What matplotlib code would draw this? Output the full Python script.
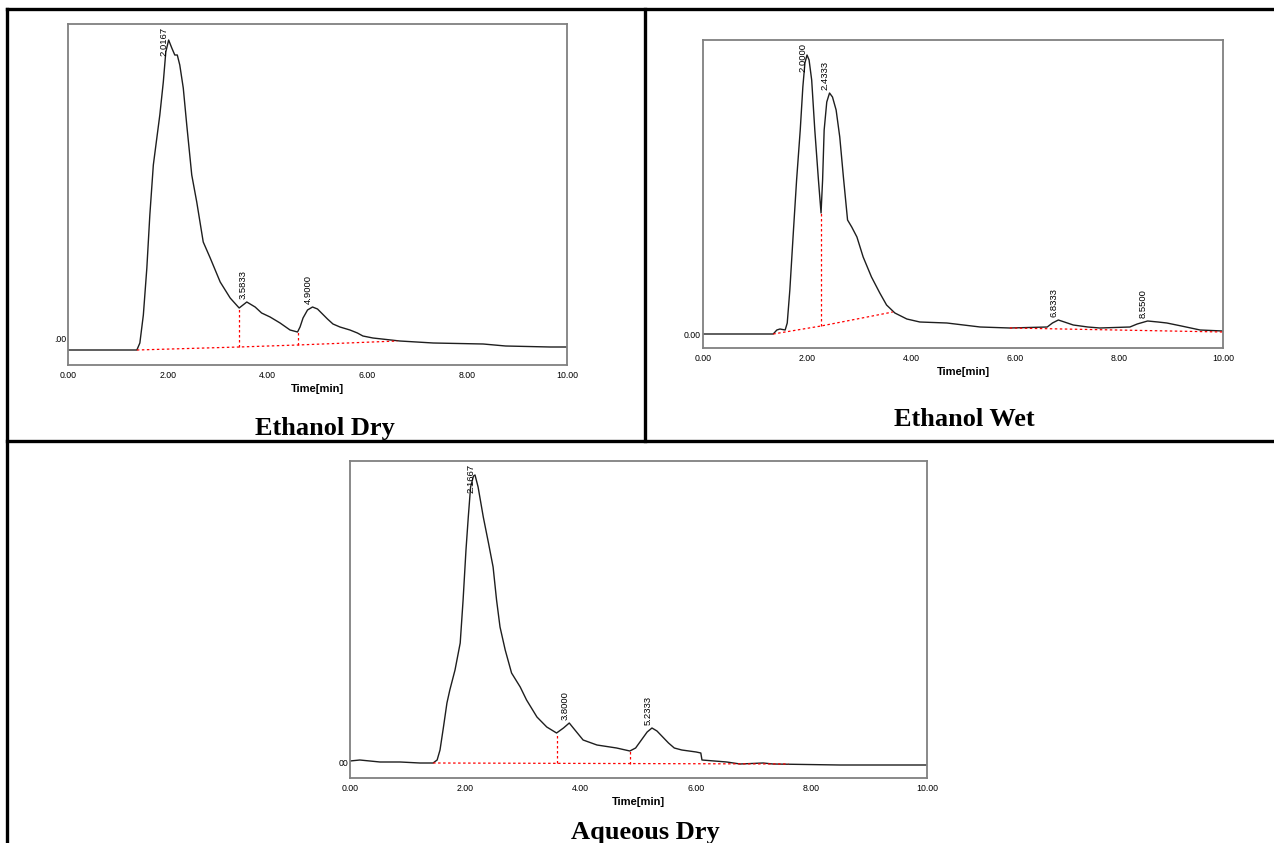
import numpy as np
import matplotlib
matplotlib.use("Agg")
import matplotlib.pyplot as plt
from matplotlib.lines import Line2D

plt.rcParams['font.family'] = ['Liberation Sans', 'DejaVu Sans']

# Ethanol Dry chromatogram (time in min, detector response in arbitrary units)
dry_t = [0.0, 1.38, 1.44, 1.51, 1.58, 1.64, 1.71, 1.78, 1.84, 1.91, 1.96, 2.0167,
         2.08, 2.14, 2.19, 2.24, 2.31, 2.38, 2.48, 2.58, 2.71, 2.85, 3.05, 3.25,
         3.43, 3.5833, 3.75, 3.88, 4.05, 4.25, 4.45, 4.6, 4.65, 4.71, 4.8, 4.9,
         5.0, 5.1, 5.2, 5.31, 5.45, 5.65, 5.8, 5.91, 6.11, 6.65, 7.32, 8.32,
         8.77, 9.66, 10.0]
dry_y = [15, 15, 22, 50, 97, 150, 200, 227, 250, 283, 313, 325,
         317, 310, 310, 300, 277, 240, 190, 163, 123, 107, 83, 67,
         57, 63, 58, 52, 48, 42, 35, 33, 38, 47, 55, 58,
         56, 51, 46, 41, 38, 35, 32, 29, 27, 24, 22, 21,
         19, 18, 18]
dry_peaks = [2.0167, 3.5833, 4.9000]
dry_peak_labels = ["2.0167", "3.5833", "4.9000"]
dry_base_t = [1.38, 3.43, 4.6, 6.6]
dry_base_y = [15, 18, 20, 24]
dry_drops = [3.43, 4.6]

# Ethanol Wet chromatogram
wet_t = [0.0, 1.35, 1.42, 1.48, 1.58, 1.62, 1.67, 1.74, 1.80, 1.87, 1.92, 1.96,
         2.0, 2.04, 2.09, 2.15, 2.22, 2.27, 2.30, 2.33, 2.38, 2.4333, 2.49, 2.56,
         2.63, 2.70, 2.78, 2.86, 2.96, 3.08, 3.24, 3.40, 3.53, 3.69, 3.92, 4.17,
         4.69, 5.33, 5.9, 6.62, 6.72, 6.8333, 6.95, 7.12, 7.4, 7.63, 8.21, 8.35,
         8.55, 8.75, 8.92, 9.2, 9.56, 10.0]
wet_y = [14, 14, 18, 19, 18, 25, 58, 118, 168, 218, 261, 285,
         293, 288, 268, 218, 168, 135, 168, 218, 246, 255, 251, 238,
         211, 171, 128, 121, 111, 91, 71, 55, 43, 35, 29, 26,
         25, 21, 20, 21, 25, 28, 26, 23, 21, 20, 21, 24,
         27, 26, 25, 22, 18, 17]
wet_peaks = [2.0000, 2.4333, 6.8333, 8.5500]
wet_peak_labels = ["2.0000", "2.4333", "6.8333", "8.5500"]
wet_base_t = [1.35, 2.27, 3.65]
wet_base_y = [14, 22, 36]
wet_base2_t = [5.9, 10.0]
wet_base2_y = [20, 16]
wet_drops = [2.27]

# Aqueous Dry chromatogram
aq_t = [0.0, 0.17, 0.52, 0.87, 1.21, 1.44, 1.51, 1.56, 1.62, 1.68, 1.73, 1.82,
        1.91, 1.96, 2.01, 2.05, 2.09, 2.14, 2.1667, 2.22, 2.31, 2.40, 2.48, 2.54,
        2.60, 2.69, 2.80, 2.95, 3.06, 3.24, 3.41, 3.58, 3.70, 3.80, 3.87, 4.04,
        4.28, 4.62, 4.85, 4.95, 5.05, 5.15, 5.2333, 5.32, 5.42, 5.52, 5.62, 5.75,
        6.0, 6.08, 6.10, 6.53, 6.76, 7.16, 7.33, 8.49, 10.0]
aq_y = [17, 18, 16, 16, 15, 15, 18, 28, 51, 75, 88, 108,
        135, 178, 228, 261, 291, 302, 303, 291, 261, 235, 211, 178,
        151, 128, 105, 91, 78, 61, 51, 45, 50, 55, 50, 38,
        33, 30, 27, 30, 38, 46, 50, 47, 41, 35, 30, 28,
        26, 25, 18, 16, 14, 15, 14, 13, 13]
aq_peaks = [2.1667, 3.8000, 5.2333]
aq_peak_labels = ["2.1667", "3.8000", "5.2333"]
aq_base_t = [1.44, 7.6]
aq_base_y = [15, 14]
aq_drops = [3.58, 4.85]

xticks = [0, 2, 4, 6, 8, 10]
W, H = 1274, 843


def make_ax(fig, x0, y0, x1, y1, top):
    ax = fig.add_axes([x0 / W, 1 - y1 / H, (x1 - x0) / W, (y1 - y0) / H])
    ax.set_xlim(0, 10)
    ax.set_ylim(0, top)
    for s in ax.spines.values():
        s.set_color('#808080')
        s.set_linewidth(1.3)
    ax.set_xticks(xticks)
    ax.set_xticklabels([f"{v:.2f}" for v in xticks], fontsize=6.3)
    ax.tick_params(length=0, pad=4)
    ax.set_xlabel("Time[min]", fontsize=8, fontweight='bold', labelpad=3)
    return ax


def draw(ax, t, y, peaks, labels, top, bases, drops, base_for_drop):
    ax.plot(t, y, color='#1e1e1e', lw=1.0)
    for bt, by in bases:
        ax.plot(bt, by, color='red', lw=0.9, ls=(0, (2, 2)))
    for d in drops:
        ax.plot([d, d], [np.interp(d, *base_for_drop), np.interp(d, t, y)],
                color='red', lw=0.9, ls=(0, (2, 2)))
    for p, s in zip(peaks, labels):
        h = np.interp(p, t, y)
        if h + 40 > top:
            ax.annotate(s, (p, top - 3), xytext=(-3, 0), textcoords='offset points',
                        rotation=90, ha='center', va='top', fontsize=6.8)
        else:
            ax.annotate(s, (p, h + 3), xytext=(-3, 0), textcoords='offset points',
                        rotation=90, ha='center', va='bottom', fontsize=6.8)


fig = plt.figure(figsize=(W / 100, H / 100), dpi=100)

ax1 = make_ax(fig, 68, 24, 567, 365, 341)
draw(ax1, dry_t, dry_y, dry_peaks, dry_peak_labels, 341,
     [(dry_base_t, dry_base_y)], dry_drops, (dry_base_t, dry_base_y))
ax1.set_yticks([27])
ax1.set_yticklabels([".00"], fontsize=6.3)
ax1.tick_params(axis='y', pad=1)

ax2 = make_ax(fig, 703, 40, 1223, 348, 308)
draw(ax2, wet_t, wet_y, wet_peaks, wet_peak_labels, 308,
     [(wet_base_t, wet_base_y), (wet_base2_t, wet_base2_y)], wet_drops,
     (wet_base_t, wet_base_y))
ax2.set_yticks([14])
ax2.set_yticklabels(["0.00"], fontsize=6.3)
ax2.tick_params(axis='y', pad=2)

ax3 = make_ax(fig, 350, 461, 927, 778, 317)
draw(ax3, aq_t, aq_y, aq_peaks, aq_peak_labels, 317,
     [(aq_base_t, aq_base_y)], aq_drops, (aq_base_t, aq_base_y))
ax3.set_yticks([16])
ax3.set_yticklabels(["00"], fontsize=6.3)
ax3.tick_params(axis='y', pad=1)

# table grid lines
lw = 2.4
fig.add_artist(Line2D([7 / W, 1], [1 - 9 / H] * 2, color='black', lw=lw))
fig.add_artist(Line2D([7 / W] * 2, [0, 1 - 9 / H], color='black', lw=lw))
fig.add_artist(Line2D([645 / W] * 2, [1 - 441 / H, 1 - 9 / H], color='black', lw=lw))
fig.add_artist(Line2D([7 / W, 1], [1 - 441 / H] * 2, color='black', lw=lw))

title_kw = dict(family=['Liberation Serif', 'DejaVu Serif'], fontweight='bold',
                fontsize=19, ha='center', va='center')
fig.text(325 / W, 1 - 428 / H, "Ethanol Dry", **title_kw)
fig.text(964 / W, 1 - 419 / H, "Ethanol Wet", **title_kw)
fig.text(645 / W, 1 - 832 / H, "Aqueous Dry", **title_kw)

fig.savefig("out.png", dpi=100)
